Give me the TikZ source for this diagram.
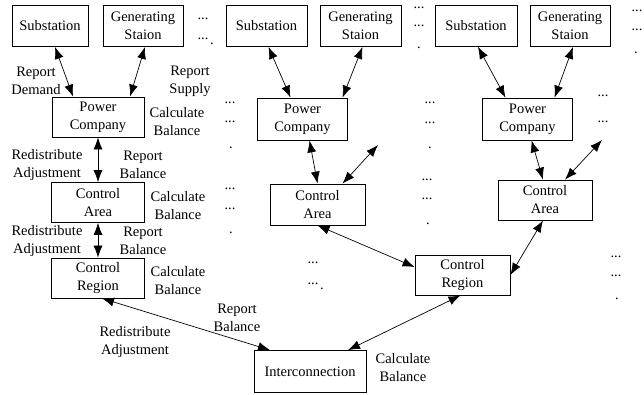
\documentclass[tikz,border=0pt]{standalone}
\usepackage{fontspec}
\setmainfont{Liberation Serif}
\usetikzlibrary{arrows.meta}

\tikzset{
  unit/.style={draw, line width=0.8pt, align=center, minimum width=80pt, minimum height=41pt, inner sep=1pt},
  note/.style={align=center, inner sep=0pt},
  etc/.style={inner sep=0pt, anchor=south},
  link/.style={{Latex[length=12pt,width=9pt]}-{Latex[length=12pt,width=9pt]}, line width=0.7pt}
}

\begin{document}
\begin{tikzpicture}[x=1pt, y=-1pt, font=\fontsize{14.5}{18}\selectfont]
\useasboundingbox (0,0) rectangle (644,394);

% top row
\node (sub1) at (50,26) [unit, minimum width=76pt] {Substation};
\node (gen1) at (143,26) [unit] {Generating\\Staion};
\node (sub2) at (266.5,26) [unit, minimum width=81pt] {Substation};
\node (gen2) at (360.5,26) [unit, minimum width=81pt] {Generating\\Staion};
\node (sub3) at (476,26) [unit, minimum width=82pt] {Substation};
\node (gen3) at (570,26) [unit] {Generating\\Staion};

% power companies
\node (pc1) at (98,117) [unit, minimum width=92pt, minimum height=40pt] {Power\\Company};
\node (pc2) at (302.5,119) [unit, minimum width=90pt, minimum height=42pt] {Power\\Company};
\node (pc3) at (527.5,119) [unit, minimum width=90pt, minimum height=42pt] {Power\\Company};

% control areas
\node (ca1) at (98,202.5) [unit, minimum width=93pt, minimum height=40pt] {Control\\Area};
\node (ca2) at (317.5,204.5) [unit, minimum width=95pt, minimum height=41pt] {Control\\Area};
\node (ca3) at (545,200) [unit, minimum width=94pt, minimum height=40pt] {Control\\Area};

% control regions and interconnection
\node (cr1) at (98,278) [unit, minimum width=93pt, minimum height=40pt] {Control\\Region};
\node (cr2) at (462.5,275) [unit, minimum width=95pt, minimum height=40pt] {Control\\Region};
\node (ic) at (310,371.5) [unit, minimum width=112pt, minimum height=42pt] {Interconnection};

\coordinate (ca2up) at (378,145);
\coordinate (ca3up) at (602,140);

% labels
\node (rdem) at (36,81) [note] {Report\\Demand};
\node (rsup) at (190,81) [note] {Report\\Supply};
\node (cb1) at (177,122) [note] {Calculate\\Balance};
\node (ra1) at (47,165) [note] {Redistribute\\Adjustment};
\node (rb1) at (143,165) [note] {Report\\Balance};
\node (cb2) at (178,206) [note] {Calculate\\Balance};
\node (ra2) at (47,241) [note] {Redistribute\\Adjustment};
\node (rb2) at (143,241) [note] {Report\\Balance};
\node (cb3) at (178,281) [note] {Calculate\\Balance};
\node (rb3) at (237,318) [note] {Report\\Balance};
\node (ra3) at (135,342) [note] {Redistribute\\Adjustment};
\node (cb4) at (403,368) [note] {Calculate\\Balance};

% dots
\node (g1a) at (203,20) [etc] {...};
\node (g1b) at (203,40) [etc] {...};
\node (g1c) at (212,45) [etc] {.};
\node (g2a) at (419,9) [etc] {...};
\node (g2b) at (419,27) [etc] {...};
\node (g2c) at (419,49) [etc] {.};
\node (g3a) at (637,12) [etc] {...};
\node (g3b) at (637,31) [etc] {...};
\node (g3c) at (636,54) [etc] {.};
\node (g4a) at (230,104) [etc] {...};
\node (g4b) at (230,123) [etc] {...};
\node (g4c) at (231,149) [etc] {.};
\node (g5a) at (230,190) [etc] {...};
\node (g5b) at (230,210) [etc] {...};
\node (g5c) at (231,234) [etc] {.};
\node (g6a) at (430,104) [etc] {...};
\node (g6b) at (430,124) [etc] {...};
\node (g6c) at (430,149) [etc] {.};
\node (g7a) at (427,181) [etc] {...};
\node (g7b) at (427,200) [etc] {...};
\node (g7c) at (428,225) [etc] {.};
\node (g8a) at (603,97) [etc] {...};
\node (g8b) at (603,123) [etc] {...};
\node (g9a) at (313,264) [etc] {...};
\node (g9b) at (313,285) [etc] {...};
\node (g9c) at (322,290) [etc] {.};
\node (g10a) at (616,258) [etc] {...};
\node (g10b) at (616,277) [etc] {...};
\node (g10c) at (617,300) [etc] {.};

% left column
\draw[link] ([xshift=5]sub1.south) -- ([xshift=-25]pc1.north);
\draw[link] ([xshift=2]gen1.south) -- ([xshift=32]pc1.north);
\draw[link] (pc1) -- (ca1);
\draw[link] (ca1) -- (cr1);
\draw[link] ([xshift=4]cr1.south) -- ([xshift=-40]ic.north);

% middle column
\draw[link] ([xshift=2]sub2.south) -- ([xshift=-12]pc2.north);
\draw[link] ([xshift=2]gen2.south) -- ([xshift=40]pc2.north);
\draw[link] ([xshift=7]pc2.south) -- (ca2.north);
\draw[link] ([xshift=25]ca2.north) -- (ca2up);
\draw[link] (ca2.south) -- ([yshift=8]cr2.west);

% right column
\draw[link] ([xshift=2]sub3.south) -- ([xshift=-22]pc3.north);
\draw[link] ([xshift=3]gen3.south) -- ([xshift=27]pc3.north);
\draw[link] ([xshift=4]pc3.south) -- ([xshift=-2]ca3.north);
\draw[link] ([xshift=20]ca3.north) -- (ca3up);
\draw[link] ([xshift=-2]ca3.south) -- (cr2.east);
\draw[link] ([xshift=-2]cr2.south) -- ([xshift=38]ic.north);
\end{tikzpicture}
\end{document}
